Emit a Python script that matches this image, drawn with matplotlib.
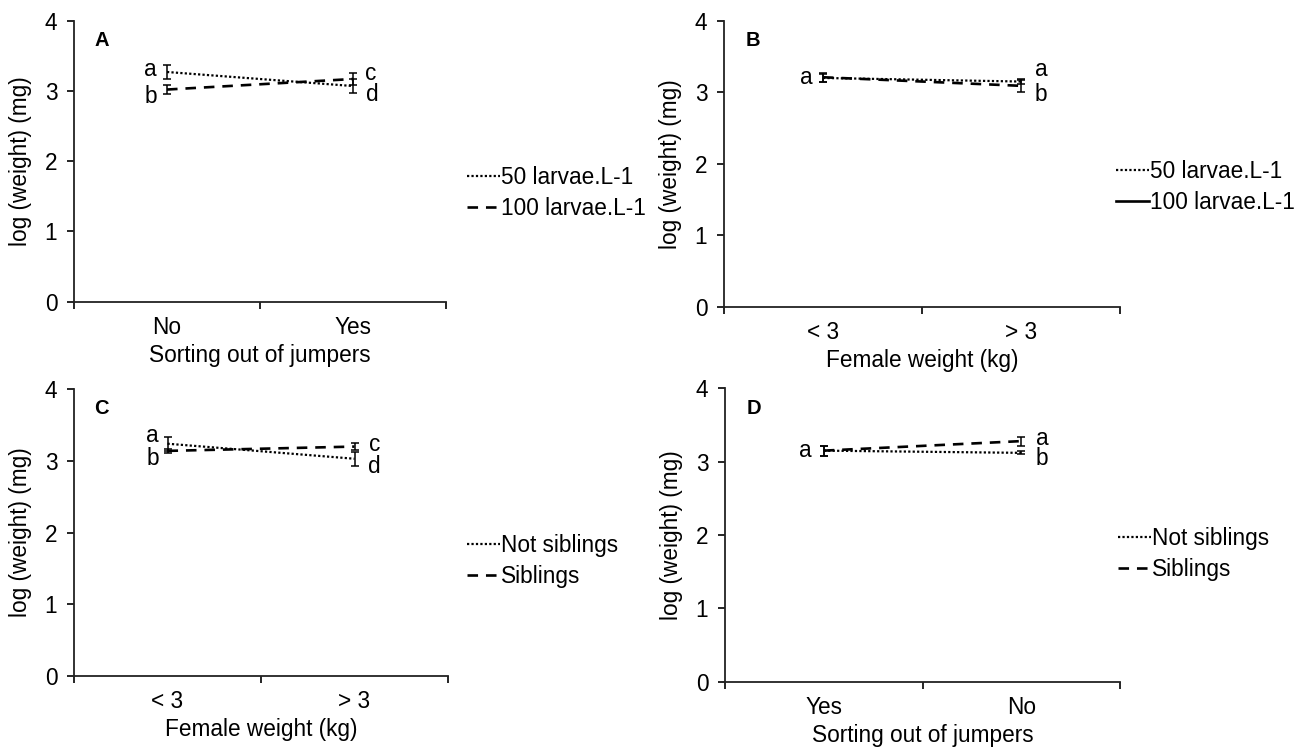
import matplotlib
matplotlib.use("Agg")
import matplotlib.pyplot as plt
from matplotlib.lines import Line2D

plt.rcParams['font.family'] = ['Liberation Sans', 'DejaVu Sans']

# ---------------- data ----------------
cats_A = ["No", "Yes"]
A_50 = [3.27, 3.07]
A_50_err = [0.10, 0.10]
A_100 = [3.02, 3.17]
A_100_err = [0.07, 0.09]
A_letters_50 = ["a", "d"]
A_letters_100 = ["b", "c"]

cats_B = ["< 3", "> 3"]
B_50 = [3.20, 3.15]
B_50_err = [0.06, 0.03]
B_100 = [3.21, 3.09]
B_100_err = [0.06, 0.08]
B_letters_50 = ["a", "a"]
B_letters_100 = ["", "b"]

cats_C = ["< 3", "> 3"]
C_not = [3.24, 3.03]
C_not_err = [0.10, 0.10]
C_sib = [3.14, 3.20]
C_sib_err = [0.03, 0.05]
C_letters_not = ["a", "d"]
C_letters_sib = ["b", "c"]

cats_D = ["Yes", "No"]
D_not = [3.15, 3.12]
D_not_err = [0.07, 0.02]
D_sib = [3.15, 3.28]
D_sib_err = [0.07, 0.06]
D_letters_not = ["a", "b"]
D_letters_sib = ["", "a"]

legend_density = ["50 larvae.L-1", "100 larvae.L-1"]
legend_sib = ["Not siblings", "Siblings"]
xlabel_sort = "Sorting out of jumpers"
xlabel_female = "Female weight (kg)"
ylabel = "log (weight) (mg)"

# ---------------- figure ----------------
W, H = 1304, 748
fig = plt.figure(figsize=(W / 100, H / 100), dpi=100)

FS = 16.3
DOT = (0, (1, 1))
DASH = (0, (4, 3))
LW_DOT = 1.6
LW_DASH = 1.9


def make_ax(l, r, t, b):
    return fig.add_axes([l / W, 1 - b / H, (r - l) / W, (b - t) / H])


def style_ax(ax, cats, xlabel, panel):
    ax.set_xlim(0, 2)
    ax.set_ylim(0, 4)
    ax.spines['top'].set_visible(False)
    ax.spines['right'].set_visible(False)
    for s in ('left', 'bottom'):
        ax.spines[s].set_linewidth(1.3)
        ax.spines[s].set_color('#222222')
    ax.set_yticks([0, 1, 2, 3, 4])
    ax.set_yticklabels(["0", "1", "2", "3", "4"], fontsize=FS)
    ax.tick_params(axis='y', direction='out', length=5, width=1.2, pad=7)
    ax.set_xticks([0, 1, 2])
    ax.set_xticklabels(["", "", ""])
    ax.tick_params(axis='x', which='major', direction='out', length=5, width=1.2)
    ax.set_xticks([0.5, 1.5], minor=True)
    ax.set_xticklabels(cats, minor=True, fontsize=FS)
    ax.tick_params(axis='x', which='minor', length=0, pad=10)
    ax.set_xlabel(xlabel, fontsize=FS, labelpad=4)
    ax.set_ylabel(ylabel, fontsize=FS, labelpad=9)
    ax.text(0.055, 0.965, panel, transform=ax.transAxes, fontsize=14.5,
            fontweight='bold', va='top', ha='left')


def series(ax, vals, errs, ls, lw):
    ax.errorbar([0.5, 1.5], vals, yerr=errs, color='black', linestyle=ls,
                linewidth=lw, capsize=3, elinewidth=1.1, capthick=1.1)


def letters(ax, vals, labs, offsets):
    for x, v, lab, (dx, dy) in zip([0.5, 1.5], vals, labs, offsets):
        if lab:
            ax.annotate(lab, (x, v), xytext=(dx, dy), textcoords='offset pixels',
                        ha='center', va='center', fontsize=FS)


def legend(ax, handles, labels, x, y):
    ax.legend(handles, labels, loc='center left', bbox_to_anchor=(x / W, 1 - y / H),
              bbox_transform=fig.transFigure, frameon=False, fontsize=FS,
              handlelength=1.45, handletextpad=0.05, borderpad=0, borderaxespad=0,
              labelspacing=0.33)


h_dot = Line2D([], [], color='black', linestyle=DOT, linewidth=LW_DOT)
h_dash = Line2D([], [], color='black', linestyle=DASH, linewidth=LW_DASH)
h_solid = Line2D([], [], color='black', linestyle='-', linewidth=LW_DASH)

# Panel A
axA = make_ax(74, 446, 20.7, 301.7)
style_ax(axA, cats_A, xlabel_sort, "A")
series(axA, A_50, A_50_err, DOT, LW_DOT)
series(axA, A_100, A_100_err, DASH, LW_DASH)
letters(axA, A_50, A_letters_50, [(-17, 2), (19, -8)])
letters(axA, A_100, A_letters_100, [(-16, -7), (18, 6)])
legend(axA, [h_dot, h_dash], legend_density, 467, 193)

# Panel B
axB = make_ax(724, 1120, 20.7, 307)
style_ax(axB, cats_B, xlabel_female, "B")
series(axB, B_50, B_50_err, DOT, LW_DOT)
series(axB, B_100, B_100_err, DASH, LW_DASH)
letters(axB, B_50, B_letters_50, [(-17, 0), (20, 12)])
letters(axB, B_100, B_letters_100, [(0, 0), (20, -9)])
legend(axB, [h_dot, h_solid], legend_density, 1116, 187)

# Panel C
axC = make_ax(74, 448, 389.3, 675.7)
style_ax(axC, cats_C, xlabel_female, "C")
series(axC, C_not, C_not_err, DOT, LW_DOT)
series(axC, C_sib, C_sib_err, DASH, LW_DASH)
letters(axC, C_not, C_letters_not, [(-15, 8), (20, -8)])
letters(axC, C_sib, C_letters_sib, [(-15, -8), (20, 2)])
legend(axC, [h_dot, h_dash], legend_sib, 467, 561)

# Panel D
axD = make_ax(725, 1120, 388.3, 681.7)
style_ax(axD, cats_D, xlabel_sort, "D")
series(axD, D_not, D_not_err, DOT, LW_DOT)
series(axD, D_sib, D_sib_err, DASH, LW_DASH)
letters(axD, D_not, D_letters_not, [(-18, 0), (21, -6)])
letters(axD, D_sib, D_letters_sib, [(0, 0), (21, 3)])
legend(axD, [h_dot, h_dash], legend_sib, 1118, 554)

fig.savefig("out.png", dpi=100)
